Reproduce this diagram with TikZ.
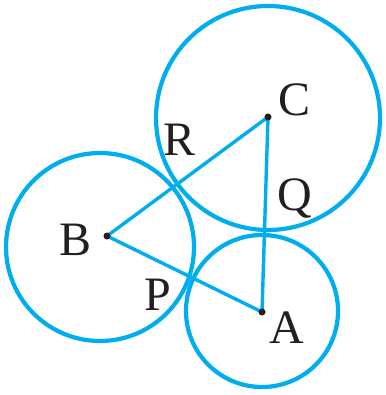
\documentclass[tikz,border=0pt]{standalone}
\usepackage{fontspec}
\setmainfont{Liberation Serif}
\usetikzlibrary{calc}
\definecolor{cyanline}{HTML}{00AEEF}
\definecolor{ink}{HTML}{231F20}
\tikzset{
  ring/.style = {draw=cyanline, line width=4.2pt},
  side/.style = {draw=cyanline, line width=3.4pt},
  vdot/.style = {circle, fill=ink, inner sep=0pt, minimum size=7pt},
  lbl/.style  = {inner sep=0pt, text=ink, font=\fontsize{48}{52}\selectfont}
}
\begin{document}
\begin{tikzpicture}[x=1pt, y=-1pt]
    \useasboundingbox (0,0) rectangle (385,395);
    % circles
    \draw[ring] (268,118) circle[radius=112];
    \draw[ring] (100,247) circle[radius=94];
    \draw[ring] (262,311) circle[radius=76];
    % vertices
    \coordinate (A) at (262,312);
    \coordinate (B) at (107,236);
    \coordinate (C) at (268,117);
    \draw[side] (B) -- (C);
    \draw[side] (C) -- (A);
    \draw[side] (A) -- (B);
    \node[vdot] (a) at (A) {};
    \node[vdot] (b) at (B) {};
    \node[vdot] (c) at (C) {};
    % labels
    \node[lbl] (la) at (287,328) {A};
    \node[lbl] (lb) at (76,240) {B};
    \node[lbl] (lc) at (295,100) {C};
    \node[lbl] (lp) at (158,295) {P};
    \node[lbl] (lq) at (295,198) {Q};
    \node[lbl] (lr) at (180,140) {R};
\end{tikzpicture}
\end{document}
